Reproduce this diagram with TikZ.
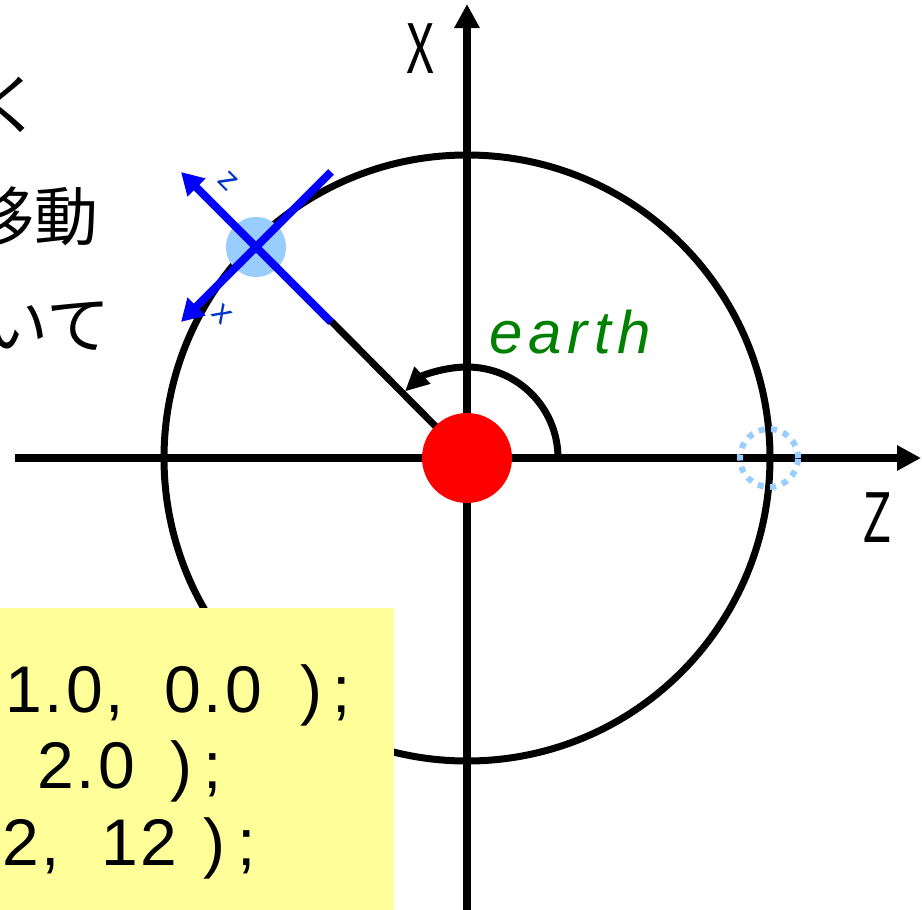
\documentclass[tikz,border=0pt]{standalone}
\usepackage{fontspec}
\setmainfont{Liberation Sans}
\newfontfamily\jpfont{Noto Sans CJK JP}
\usetikzlibrary{arrows.meta}
\definecolor{earthgreen}{RGB}{0,128,0}
\definecolor{lightblue}{RGB}{153,204,255}
\definecolor{labelblue}{RGB}{0,51,204}
\definecolor{codeyellow}{RGB}{255,255,153}
\newcommand{\myls}{\kern3pt}
\tikzset{
  axisline/.style={line width=8pt, -{Triangle[length=24pt,width=24pt]}},
  bluearrow/.style={draw=blue, line width=8pt, -{Triangle[length=22pt,width=24pt]}},
  axislabel/.style={font=\jpfont\fontsize{68}{68}\selectfont, xscale=0.72, inner sep=0pt},
  jptext/.style={font=\jpfont\fontsize{64}{64}\selectfont, anchor=base west, inner sep=0pt},
  codetext/.style={font=\fontsize{66}{66}\selectfont, anchor=base west, inner sep=0pt},
  smalllabel/.style={font=\fontsize{32}{32}\selectfont, text=labelblue, inner sep=0pt, rotate=-45}
}
\begin{document}
\begin{tikzpicture}[x=1pt,y=-1pt]
\useasboundingbox (0,0) rectangle (922,910);
\coordinate (O) at (467,458);
\coordinate (xbot) at (467,910);
\coordinate (xtop) at (467,4);
\coordinate (zleft) at (15,458);
\coordinate (zright) at (921,458);
% big orbit circle
\draw[line width=7pt] (O) circle[radius=303];
% axes
\draw[axisline] (xbot) -- (xtop);
\draw[axisline] (zleft) -- (zright);
\node[axislabel] (xlab) at (421,49) {X};
\node[axislabel] (zlab) at (877,518) {Z};
% radial line
\coordinate (radend) at (331,321);
\draw[line width=7pt] (O) -- (radend);
% angle arc
\coordinate (arcstart) at (558,458);
\draw[line width=7pt, -{Triangle[length=24pt,width=22pt]}] (arcstart) arc[start angle=0, end angle=-133, radius=91];
\node[font=\itshape\fontsize{60}{60}\selectfont, text=earthgreen, anchor=base west, inner sep=0pt] (earth) at (489,353) {e\kern6pt a\kern6pt r\kern7pt t\kern6pt h};
% earth
\node[circle, fill=red, minimum size=90pt, inner sep=0pt] (earthdot) at (O) {};
% satellite
\node[circle, fill=lightblue, minimum size=60pt, inner sep=0pt] (sat) at (256,247) {};
\coordinate (zs) at (331,322);
\coordinate (ze) at (181,172);
\coordinate (xs) at (331,172);
\coordinate (xe) at (181,322);
\draw[bluearrow] (zs) -- (ze);
\draw[bluearrow] (xs) -- (xe);
\node[smalllabel] (zl) at (228,181) {z};
\node[smalllabel] (xl) at (222,314) {x};
% dotted marker
\node[circle, draw=lightblue, line width=6pt, dash pattern=on 6pt off 6.5pt, minimum size=58pt, inner sep=0pt] (mark) at (769,458) {};
% left Japanese text (clipped at the edge, as in the reference)
\node[jptext] (t1) at (-22,128) {く};
\node[jptext] (t2) at (-30,240) {移動};
\node[jptext] (t3) at (-16,348) {いて};
% code box
\node[fill=codeyellow, minimum width=394pt, minimum height=302pt, anchor=north west, inner sep=0pt] (codebox) at (0,608) {};
\node[codetext] (c1) at (5,712) {1\myls.\myls0\myls,\hspace{40pt}0\myls.\myls0\hspace{38pt})\hspace{11pt};};
\node[codetext] (c2) at (37,788) {2\myls.\myls0\hspace{36pt})\hspace{11pt};};
\node[codetext] (c3) at (2,865) {2\myls,\hspace{41pt}1\myls2\hspace{26pt})\hspace{12pt};};
\end{tikzpicture}
\end{document}
